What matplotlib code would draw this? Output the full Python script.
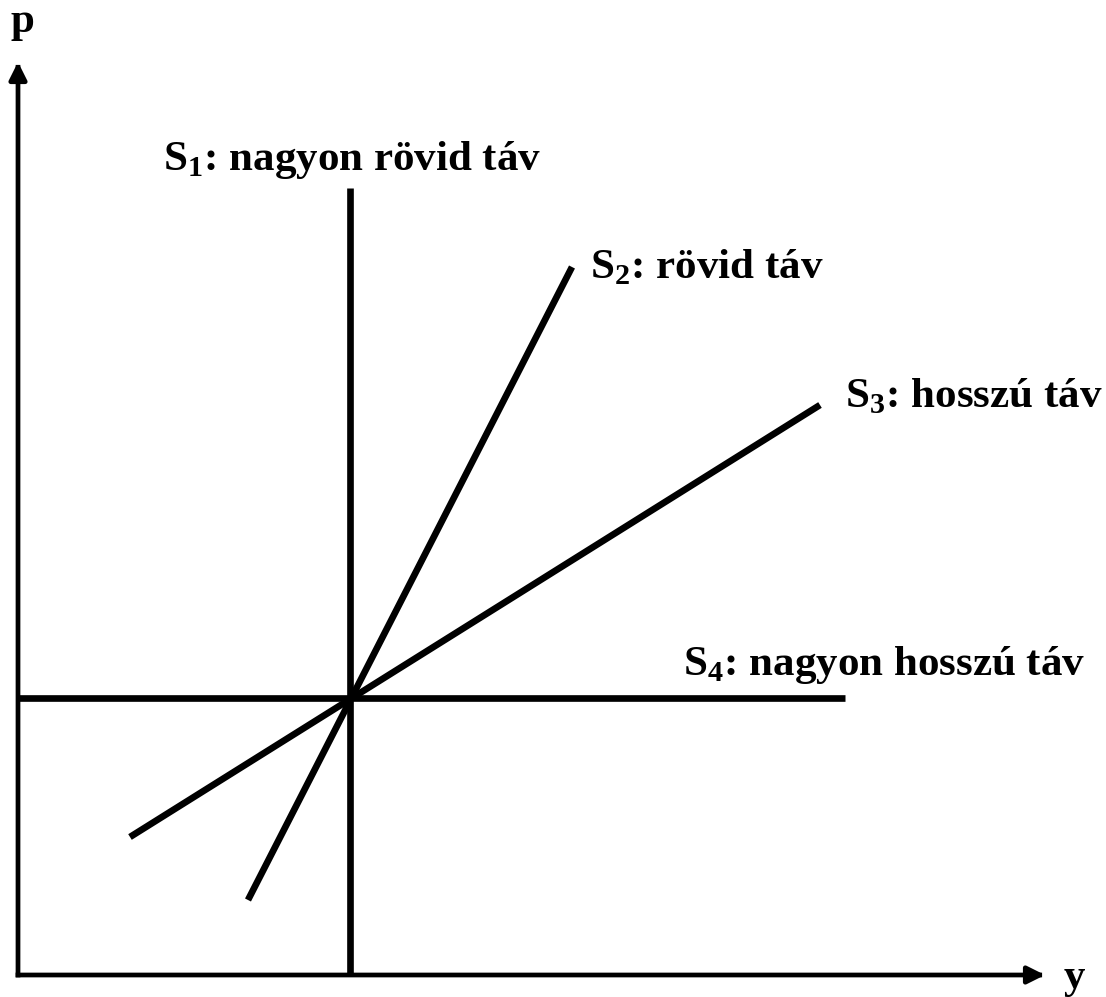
import matplotlib.pyplot as plt

plt.rcParams['font.family'] = ['Liberation Serif', 'DejaVu Serif']
plt.rcParams['mathtext.fontset'] = 'custom'
plt.rcParams['mathtext.rm'] = 'Liberation Serif:bold'
plt.rcParams['mathtext.bf'] = 'Liberation Serif:bold'

# schematic coordinates (y, p), origin at the axis corner
eq = (3.32, 2.77)  # common point of all supply curves

s1_x = [3.32, 3.32]
s1_y = [0.0, 7.87]
s2_x = [2.30, 5.54]
s2_y = [0.75, 7.08]
s3_x = [1.12, 8.02]
s3_y = [1.38, 5.70]
s4_x = [0.0, 8.27]
s4_y = [2.77, 2.77]

labels = [r'S$_{1}$: nagyon rövid táv', r'S$_{2}$: rövid táv',
          r'S$_{3}$: hosszú táv', r'S$_{4}$: nagyon hosszú táv']
label_pos = [(1.45, 8.05), (5.72, 6.97), (8.27, 5.68), (6.65, 3.0)]

fig = plt.figure(figsize=(11.06, 9.97), dpi=100)
ax = fig.add_axes([0, 0, 1, 1])
ax.set_xlim(-0.18, 10.88)
ax.set_ylim(-0.22, 9.75)
ax.axis('off')

lw = 4.8
for xs, ys in [(s1_x, s1_y), (s2_x, s2_y), (s3_x, s3_y), (s4_x, s4_y)]:
    ax.plot(xs, ys, color='black', lw=lw, solid_capstyle='butt')

# axes with arrows
arrow = dict(arrowstyle='-|>', lw=3.4, color='black', mutation_scale=26,
             shrinkA=0, shrinkB=0, capstyle='projecting')
ax.annotate('', xy=(10.27, 0), xytext=(0, 0), arrowprops=arrow)
ax.annotate('', xy=(0, 9.13), xytext=(0, 0), arrowprops=arrow)
ax.text(0.04, 9.43, 'p', fontsize=31, fontweight='bold', ha='center', va='baseline')
ax.text(10.56, -0.13, 'y', fontsize=31, fontweight='bold', ha='center', va='baseline')

for lab, (x, y) in zip(labels, label_pos):
    ax.text(x, y, lab, fontsize=31, fontweight='bold', ha='left', va='baseline')

fig.savefig('out.png', dpi=100, facecolor='white')
